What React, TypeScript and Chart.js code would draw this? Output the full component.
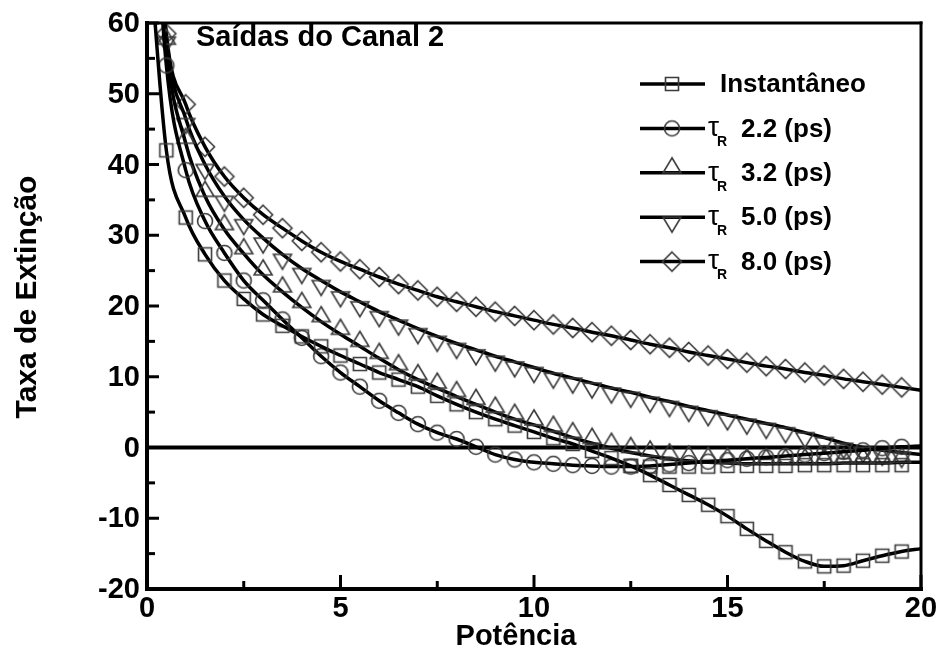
import { useEffect, useRef } from "react";
import { Chart, registerables } from "chart.js";

Chart.register(...registerables);

// Potência (x) sampled every 0.5
const POWER = [
  0, 0.5, 1, 1.5, 2, 2.5, 3, 3.5, 4, 4.5, 5, 5.5, 6, 6.5, 7, 7.5, 8, 8.5, 9, 9.5, 10,
  10.5, 11, 11.5, 12, 12.5, 13, 13.5, 14, 14.5, 15, 15.5, 16, 16.5, 17, 17.5, 18, 18.5, 19, 19.5, 20,
];

// Taxa de Extinção per response time
const INSTANT = [
  75, 42.0, 32.5, 27.3, 23.6, 21.0, 18.8, 17.2, 15.7, 14.3, 13.0, 11.8, 10.6, 9.6, 8.6, 7.3, 6.1, 5.0, 4.0, 3.1, 2.2,
  1.3, 0.5, -0.5, -1.5, -2.6, -3.9, -5.3, -6.7, -8.1, -9.7, -11.5, -13.2, -14.8, -16.1, -16.8, -16.7, -16.0, -15.3, -14.7, -14.3,
];
const TAU_2_2 = [
  95, 54.0, 39.2, 32.0, 27.5, 23.6, 20.8, 18.1, 15.5, 12.9, 10.6, 8.6, 6.6, 4.9, 3.3, 2.1, 1.2, 0.1, -1.0, -1.7, -2.1,
  -2.3, -2.5, -2.6, -2.7, -2.7, -2.6, -2.4, -2.2, -2.0, -1.8, -1.6, -1.4, -1.2, -1.0, -0.8, -0.6, -0.4, -0.1, 0.1, 0.2,
];
const TAU_3_2 = [
  100, 57.0, 43.0, 35.5, 30.8, 27.4, 24.4, 22.0, 19.8, 17.8, 16.0, 14.3, 12.6, 11.0, 9.6, 8.4, 7.2, 6.1, 5.0, 4.0, 3.2,
  2.3, 1.4, 0.6, -0.1, -0.7, -1.2, -1.6, -1.9, -2.1, -2.2, -2.3, -2.3, -2.3, -2.3, -2.3, -2.2, -2.2, -2.2, -2.1, -2.1,
];
const TAU_5_0 = [
  100, 58.0, 46.5, 40.0, 35.5, 32.2, 29.6, 27.3, 25.3, 23.6, 22.0, 20.6, 19.2, 18.0, 16.8, 15.7, 14.7, 13.8, 12.9, 12.1, 11.3,
  10.5, 9.8, 9.1, 8.4, 7.8, 7.1, 6.5, 5.8, 5.2, 4.6, 4.0, 3.4, 2.8, 2.1, 1.4, 0.6, 0.0, -0.4, -0.7, -1.0,
];
const TAU_8_0 = [
  100, 58.5, 48.5, 42.5, 38.3, 35.3, 32.9, 31.0, 29.2, 27.6, 26.3, 25.2, 24.1, 23.1, 22.2, 21.3, 20.6, 19.9, 19.2, 18.6, 18.0,
  17.4, 16.9, 16.3, 15.8, 15.2, 14.6, 14.1, 13.5, 13.0, 12.5, 12.0, 11.5, 11.1, 10.6, 10.2, 9.7, 9.3, 8.9, 8.5, 8.1,
];

// flat row of square markers under the cluster near zero
const FLAT_POWER = [12.5, 13, 13.5, 14, 14.5, 15, 15.5, 16, 16.5, 17, 17.5, 18, 18.5, 19, 19.5];
const FLAT_VALUES = [-2.6, -2.7, -2.7, -2.7, -2.7, -2.6, -2.6, -2.6, -2.6, -2.5, -2.5, -2.5, -2.5, -2.5, -2.5];

const X_TICKS = [0, 5, 10, 15, 20];
const Y_TICKS = [-20, -10, 0, 10, 20, 30, 40, 50, 60];
const LEGEND_TEXT = ["Instantâneo", "2.2 (ps)", "3.2 (ps)", "5.0 (ps)", "8.0 (ps)"];

const FONT = '"Liberation Sans", Arial, Helvetica, sans-serif';

type Shape = "square" | "circle" | "up" | "down" | "diamond";
const SHAPES: Shape[] = ["square", "circle", "up", "down", "diamond"];

function makeMarker(shape: Shape): HTMLCanvasElement {
  const size = 44;
  const c = document.createElement("canvas");
  c.width = size;
  c.height = size;
  const g = c.getContext("2d")!;
  const m = size / 2;
  g.strokeStyle = "#3a3a3a";
  g.lineWidth = 1.6;
  g.beginPath();
  switch (shape) {
    case "square":
      g.rect(m - 6.5, m - 6.5, 13, 13);
      break;
    case "circle":
      g.arc(m, m, 7.5, 0, Math.PI * 2);
      break;
    case "up":
      // base sits on the curve
      g.moveTo(m, m - 15);
      g.lineTo(m + 9, m);
      g.lineTo(m - 9, m);
      g.closePath();
      break;
    case "down":
      // top edge sits on the curve
      g.moveTo(m - 9, m);
      g.lineTo(m + 9, m);
      g.lineTo(m, m + 15);
      g.closePath();
      break;
    case "diamond":
      g.moveTo(m, m - 9.5);
      g.lineTo(m + 9.5, m);
      g.lineTo(m, m + 9.5);
      g.lineTo(m - 9.5, m);
      g.closePath();
      break;
  }
  g.stroke();
  return c;
}

export default function App() {
  const canvasRef = useRef<HTMLCanvasElement | null>(null);

  useEffect(() => {
    const canvas = canvasRef.current;
    if (!canvas) return;
    const markers = SHAPES.map(makeMarker);
    const seriesValues = [INSTANT, TAU_2_2, TAU_3_2, TAU_5_0, TAU_8_0];

    const datasets: any[] = seriesValues.map((vals, s) => ({
      label: LEGEND_TEXT[s],
      data: POWER.map((x, i) => ({ x, y: vals[i] })),
      borderColor: "#000",
      borderWidth: 3.5,
      pointStyle: markers[s],
      pointRadius: (ctx: any) => {
        const x = POWER[ctx.dataIndex];
        return x === 0 || x === 20 ? 0 : 6;
      },
      cubicInterpolationMode: "monotone",
      fill: false,
    }));
    datasets.push({
      label: "",
      data: FLAT_POWER.map((x, i) => ({ x, y: FLAT_VALUES[i] })),
      showLine: false,
      pointStyle: markers[0],
      pointRadius: 6,
    });

    const decor = {
      id: "decor",
      beforeDatasetsDraw(chart: any) {
        const { ctx, chartArea: a, scales } = chart;
        const y0 = scales.y.getPixelForValue(0);
        ctx.save();
        ctx.strokeStyle = "#000";
        ctx.lineWidth = 4;
        ctx.beginPath();
        ctx.moveTo(a.left, y0);
        ctx.lineTo(a.right, y0);
        ctx.stroke();
        ctx.restore();
      },
      afterDraw(chart: any) {
        const { ctx, chartArea: a, scales } = chart;
        const xs = scales.x;
        const ys = scales.y;
        ctx.save();
        ctx.strokeStyle = "#000";
        ctx.lineCap = "square";

        // frame
        const seg = (x1: number, y1: number, x2: number, y2: number, w: number) => {
          ctx.lineWidth = w;
          ctx.beginPath();
          ctx.moveTo(x1, y1);
          ctx.lineTo(x2, y2);
          ctx.stroke();
        };
        seg(a.left, a.top, a.right, a.top, 3);
        seg(a.right, a.top, a.right, a.bottom, 3);
        seg(a.left, a.top, a.left, a.bottom, 4);
        seg(a.left, a.bottom, a.right, a.bottom, 4);

        // inward ticks
        ctx.lineCap = "butt";
        Y_TICKS.forEach((v, i) => {
          const py = ys.getPixelForValue(v);
          seg(a.left, py, a.left + 12, py, 3);
          if (i < Y_TICKS.length - 1) {
            const mid = (v + Y_TICKS[i + 1]) / 2;
            const pm = ys.getPixelForValue(mid);
            seg(a.left, pm, a.left + 8, pm, 3);
          }
        });
        X_TICKS.forEach((v, i) => {
          const px = xs.getPixelForValue(v);
          seg(px, a.bottom, px, a.bottom - 14, 3);
          if (i < X_TICKS.length - 1) {
            const mid = (v + X_TICKS[i + 1]) / 2;
            const pm = xs.getPixelForValue(mid);
            seg(pm, a.bottom, pm, a.bottom - 8, 3);
          }
        });

        // tick labels
        ctx.fillStyle = "#000";
        ctx.font = `bold 29px ${FONT}`;
        ctx.textAlign = "right";
        ctx.textBaseline = "middle";
        Y_TICKS.forEach((v) => {
          ctx.fillText(String(v), 140, ys.getPixelForValue(v) + 1);
        });
        ctx.textAlign = "center";
        X_TICKS.forEach((v) => {
          ctx.fillText(String(v), xs.getPixelForValue(v), 609);
        });

        // axis titles
        ctx.fillText("Potência", 516, 637);
        ctx.save();
        ctx.translate(28, 297);
        ctx.rotate(-Math.PI / 2);
        ctx.font = `bold 30px ${FONT}`;
        ctx.fillText("Taxa de Extinção", 0, 0);
        ctx.restore();

        // panel title
        ctx.textAlign = "left";
        ctx.fillText("Saídas do Canal 2", 196, 38);

        // legend
        LEGEND_TEXT.forEach((txt, i) => {
          const ly = 84 + i * 44.4;
          seg(640, ly, 705, ly, 3.5);
          ctx.drawImage(markers[i], 672 - 22, ly - 22);
          ctx.textBaseline = "middle";
          ctx.textAlign = "left";
          if (i === 0) {
            ctx.font = `bold 26px ${FONT}`;
            ctx.fillText(txt, 720, ly + 1);
          } else {
            ctx.font = `28px ${FONT}`;
            ctx.fillText("τ", 708, ly);
            ctx.font = `bold 14px ${FONT}`;
            ctx.fillText("R", 717, ly + 14);
            ctx.font = `bold 26px ${FONT}`;
            ctx.fillText(txt, 741, ly + 1);
          }
        });
        ctx.restore();
      },
    };

    const chart = new Chart(canvas, {
      type: "line",
      data: { datasets },
      options: {
        responsive: false,
        animation: false,
        devicePixelRatio: 1,
        events: [],
        layout: { padding: { left: 147, right: 20, top: 23, bottom: 67 } },
        scales: {
          x: { type: "linear", min: 0, max: 20, display: false },
          y: { type: "linear", min: -20, max: 60, display: false },
        },
        plugins: { legend: { display: false }, tooltip: { enabled: false } },
      },
      plugins: [decor],
    });
    return () => chart.destroy();
  }, []);

  return (
    <div style={{ position: "fixed", left: 0, top: 0, width: 941, height: 656, background: "#fff" }}>
      <canvas ref={canvasRef} width={941} height={656} style={{ width: 941, height: 656 }} />
    </div>
  );
}
